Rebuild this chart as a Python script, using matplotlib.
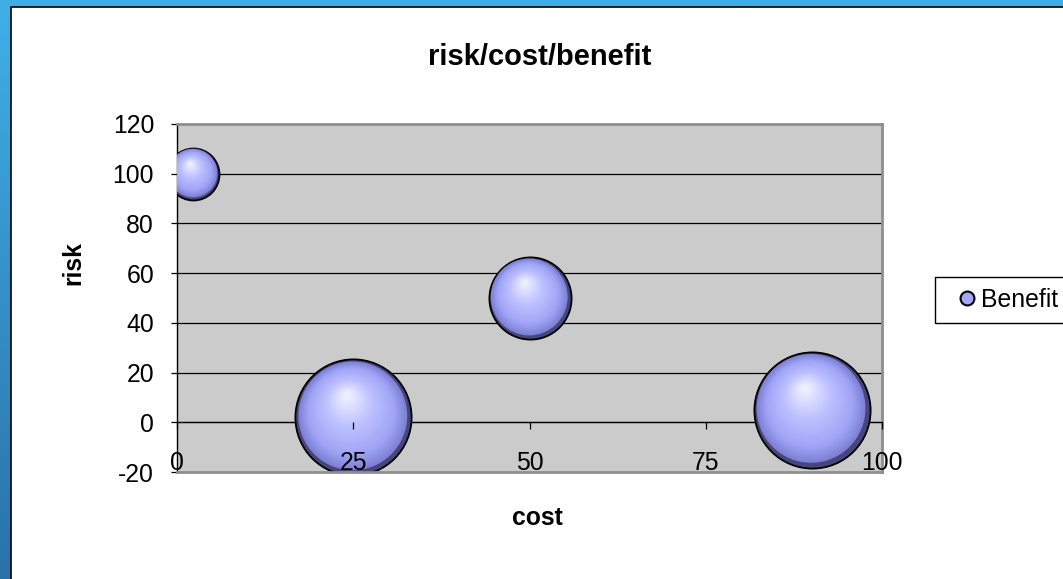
import numpy as np
import matplotlib
matplotlib.use("Agg")
import matplotlib.pyplot as plt
from matplotlib.colors import LinearSegmentedColormap
from matplotlib.lines import Line2D
from matplotlib.patches import Rectangle
from matplotlib.transforms import offset_copy

# bubble data
cost = [2.3, 25, 50, 90]
risk = [100, 2, 50, 5]
benefit = [20, 100, 50, 100]

x_ticks = [0, 25, 50, 75, 100]
y_ticks = [-20, 0, 20, 40, 60, 80, 100, 120]

W, H, DPI = 1063, 579, 100
BUBBLE_SCALE = 70  # marker area in pt^2 per unit of benefit

# sphere shading: colour as a function of how far a layer is towards the highlight
SHADE_T = [0.0, 0.06, 0.25, 0.6, 0.85, 1.0]
SHADE_RGB = np.array([
    (70, 70, 125),
    (125, 128, 210),
    (160, 164, 246),
    (190, 194, 255),
    (225, 227, 255),
    (245, 245, 255),
]) / 255.0

plt.rcParams["font.family"] = ["Liberation Sans", "DejaVu Sans"]
plt.rcParams["axes.unicode_minus"] = False


def shade(t):
    return tuple(np.interp(t, SHADE_T, SHADE_RGB[:, k]) for k in range(3))


def draw_sphere(ax, fig, x, y, size, layers=45):
    r = np.sqrt(size) / 2  # radius in points
    for i, t in enumerate(np.linspace(0.0, 0.93, layers)):
        if i > 0 and t < 0.05:
            continue
        tr = offset_copy(ax.transData, fig=fig, x=-0.12 * r * t, y=0.40 * r * t, units="points")
        ax.scatter([x], [y], s=size * (1 - t) ** 2, color=[shade(t)], transform=tr,
                   edgecolors="black" if i == 0 else "none", linewidths=1.3, zorder=3)


fig = plt.figure(figsize=(W / DPI, H / DPI), dpi=DPI)

# slide frame behind the chart
bg = fig.add_axes([0, 0, 1, 1], zorder=-10)
frame_cmap = LinearSegmentedColormap.from_list("frame", ["#3fb0e6", "#2a72a8"])
bg.imshow(np.linspace(0, 1, 256)[:, None], cmap=frame_cmap, aspect="auto", extent=[0, 1, 0, 1])
bg.axis("off")
fig.add_artist(Rectangle((11 / W, -0.01), 1.0, 1.01 - 7 / H, transform=fig.transFigure,
                         facecolor="white", edgecolor="black", linewidth=1.2, zorder=-5))

ax = fig.add_axes([177 / W, 107 / H, 705 / W, 348 / H])
ax.set_facecolor("#cbcbcb")

for x, y, b in zip(cost, risk, benefit):
    draw_sphere(ax, fig, x, y, b * BUBBLE_SCALE)

ax.set_xlim(0, 100)
ax.set_ylim(-20, 120)
ax.set_xticks(x_ticks)
ax.set_yticks(y_ticks)
ax.tick_params(labelsize=17.8, colors="black")

# horizontal axis crosses at risk = 0, labels sit at the bottom of the plot area
ax.spines["bottom"].set_position(("data", 0))
ax.spines["bottom"].set_color("black")
ax.spines["bottom"].set_linewidth(0.9)
ax.tick_params(axis="x", direction="out", length=5, width=0.9, pad=16)
ax.spines["left"].set_color("black")
ax.spines["left"].set_linewidth(1.0)
ax.tick_params(axis="y", direction="out", length=4.5, width=0.9, pad=12)
for side in ("top", "right"):
    ax.spines[side].set_color("#8e8e8e")
    ax.spines[side].set_linewidth(2)
ax.plot([0, 1], [0, 0], transform=ax.transAxes, color="#8e8e8e", lw=2, clip_on=False, zorder=4)

# gridlines stay under the bubbles, cost labels are printed over them
ax.yaxis.grid(True, color="black", linewidth=0.9)
ax.set_axisbelow(True)
ax.xaxis.set_zorder(5)
for val, gl in zip(y_ticks, ax.get_ygridlines()):
    if val in (y_ticks[0], y_ticks[-1]):
        gl.set_visible(False)

fig.text(540 / W, 1 - 65 / H, "risk/cost/benefit", ha="center", va="baseline",
         fontsize=21, fontweight="bold")
fig.text(537 / W, 1 - 525 / H, "cost", ha="center", va="baseline",
         fontsize=17.8, fontweight="bold")
fig.text(73 / W, 1 - 263 / H, "risk", ha="center", va="center", rotation=90,
         fontsize=17.8, fontweight="bold")

handle = Line2D([], [], ls="none", marker="o", markersize=10, markerfacecolor="#a3a7f8",
                markeredgecolor="black", markeredgewidth=1.5)
fig.legend([handle], ["Benefit"], loc="center left", bbox_to_anchor=(935 / W, 1 - 300 / H),
           frameon=True, fancybox=False, edgecolor="black", framealpha=1, fontsize=17.8,
           handlelength=1.7, handletextpad=-0.3, borderpad=0.45, borderaxespad=0)

fig.savefig("out.png", dpi=DPI)
